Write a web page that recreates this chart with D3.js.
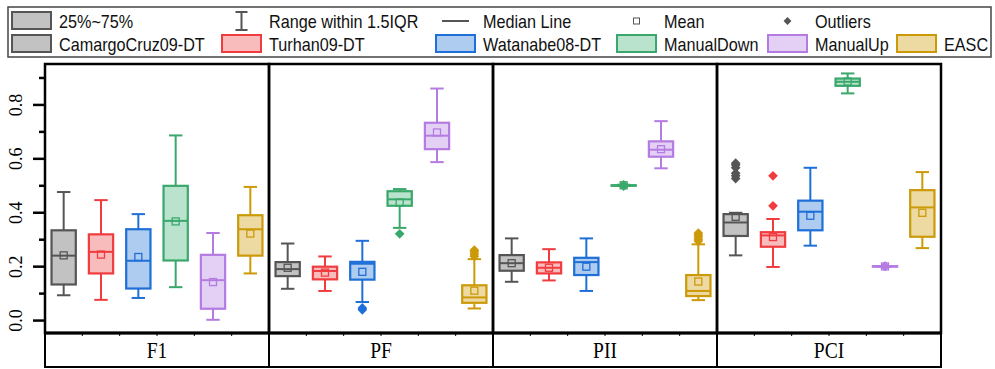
<!DOCTYPE html>
<html>
<head>
<meta charset="utf-8">
<script src="https://cdn.jsdelivr.net/npm/d3@7/dist/d3.min.js"></script>
<style>
  body { margin: 0; background: #fff; }
  svg { display: block; }
</style>
</head>
<body>
<svg id="chart" width="995" height="369"></svg>
<script>
// metric panels and methods
const panels = ["F1", "PF", "PII", "PCI"];
const methods = ["CamargoCruz09-DT", "Turhan09-DT", "Watanabe08-DT", "ManualDown", "ManualUp", "EASC"];

// box stats, one row per panel, one value per method
const whiskerLow = [
  [0.092, 0.075, 0.082, 0.122, 0.001, 0.173],
  [0.116, 0.108, 0.067, 0.342, 0.586, 0.043],
  [0.142, 0.147, 0.108, 0.498, 0.563, 0.074],
  [0.240, 0.197, 0.276, 0.841, 0.198, 0.267]
];
const q1 = [
  [0.132, 0.173, 0.117, 0.221, 0.042, 0.239],
  [0.163, 0.151, 0.150, 0.424, 0.634, 0.064],
  [0.183, 0.173, 0.167, 0.500, 0.606, 0.089],
  [0.312, 0.272, 0.333, 0.869, 0.199, 0.309]
];
const median = [
  [0.239, 0.253, 0.220, 0.368, 0.148, 0.337],
  [0.189, 0.182, 0.209, 0.448, 0.684, 0.084],
  [0.211, 0.194, 0.215, 0.500, 0.632, 0.108],
  [0.362, 0.314, 0.402, 0.884, 0.199, 0.418]
];
const q3 = [
  [0.333, 0.318, 0.337, 0.498, 0.242, 0.389],
  [0.215, 0.198, 0.216, 0.478, 0.732, 0.129],
  [0.241, 0.214, 0.231, 0.500, 0.663, 0.167],
  [0.393, 0.326, 0.443, 0.896, 0.200, 0.482]
];
const whiskerHigh = [
  [0.475, 0.445, 0.393, 0.685, 0.323, 0.494],
  [0.284, 0.236, 0.294, 0.486, 0.859, 0.226],
  [0.303, 0.263, 0.303, 0.502, 0.738, 0.281],
  [0.398, 0.375, 0.565, 0.915, 0.200, 0.549]
];
const mean = [
  [0.240, 0.243, 0.234, 0.366, 0.141, 0.321],
  [0.194, 0.176, 0.179, 0.436, 0.696, 0.109],
  [0.211, 0.194, 0.198, 0.500, 0.634, 0.143],
  [0.383, 0.308, 0.387, 0.885, 0.199, 0.398]
];
const outliers = [
  [[], [], [], [], [], []],
  [[], [], [0.045, 0.038], [0.320], [], [0.237, 0.245, 0.253, 0.260]],
  [[], [], [], [0.497, 0.502], [], [0.293, 0.300, 0.308, 0.316, 0.323]],
  [[0.525, 0.535, 0.545, 0.565, 0.575, 0.582], [0.424, 0.535], [], [], [0.199, 0.200], []]
];
const yTicks = [0, 0.2, 0.4, 0.6, 0.8];
const yMinorTicks = [0.1, 0.3, 0.5, 0.7, 0.9];

const strokeColors = ["#555555", "#f03c3e", "#1f6fd8", "#3aa86b", "#b47ce2", "#cc9a08"];
const fillColors = ["#c2c2c2", "#f9bcbc", "#aecbf0", "#b9e3cd", "#e3d0f4", "#eddaa2"];

const svg = d3.select("#chart");
const plotTop = 64, plotBottom = 333, stripBottom = 367;

const x = d3.scaleBand().domain(panels).range([45, 941]);
const xi = d3.scaleBand().domain(methods).range([0, x.bandwidth()]);
const y = d3.scaleLinear().domain([-0.048, 0.95]).range([plotBottom, plotTop]);
const color = d3.scaleOrdinal().domain(methods).range(strokeColors);
const fill = d3.scaleOrdinal().domain(methods).range(fillColors);

const rows = [];
panels.forEach(function(p, i) {
  methods.forEach(function(m, j) {
    rows.push({
      panel: p, method: m,
      lo: whiskerLow[i][j], q1: q1[i][j], med: median[i][j],
      q3: q3[i][j], hi: whiskerHigh[i][j], mean: mean[i][j],
      out: outliers[i][j]
    });
  });
});

const boxW = xi.bandwidth() * 0.65;
const capW = xi.bandwidth() * 0.36;
function cx(d) { return x(d.panel) + xi(d.method) + xi.bandwidth() / 2; }

// legend
const legend = svg.append("g");
legend.append("rect")
  .attr("x", 8).attr("y", 7).attr("width", 983).attr("height", 50)
  .attr("fill", "#fff").attr("stroke", "#444").attr("stroke-width", 1.5);

const colX = [12, 222, 436, 617, 768, 897];
const swW = 39, swH = 17;
const row1 = ["25%~75%", "Range within 1.5IQR", "Median Line", "Mean", "Outliers"];

function legendText(xp, yp, t) {
  legend.append("text")
    .attr("transform", "translate(" + xp + "," + yp + ") scale(0.9,1)")
    .attr("font-family", "Liberation Sans, Arial, sans-serif")
    .attr("font-size", 18).attr("fill", "#111").text(t);
}

row1.forEach(function(t, k) {
  legendText(colX[k] + 47, 28, t);
});
// row 1 symbols
legend.append("rect").attr("x", colX[0]).attr("y", 12).attr("width", swW).attr("height", swH)
  .attr("fill", "#c2c2c2").attr("stroke", "#555").attr("stroke-width", 2);
const rc = colX[1] + swW / 2;
legend.append("path")
  .attr("d", "M" + (rc - 6) + ",12H" + (rc + 6) + "M" + rc + ",12V30M" + (rc - 6) + ",30H" + (rc + 6))
  .attr("stroke", "#555").attr("stroke-width", 2).attr("fill", "none");
legend.append("line").attr("x1", colX[2] + 6).attr("x2", colX[2] + 33).attr("y1", 21).attr("y2", 21)
  .attr("stroke", "#555").attr("stroke-width", 2);
legend.append("rect").attr("x", colX[3] + swW / 2 - 3).attr("y", 18).attr("width", 6).attr("height", 6)
  .attr("fill", "none").attr("stroke", "#555").attr("stroke-width", 1);
legend.append("path").attr("d", d3.symbol(d3.symbolDiamond2, 40)())
  .attr("transform", "translate(" + (colX[4] + swW / 2) + ",21)").attr("fill", "#555");

// row 2 swatches
methods.forEach(function(m, k) {
  legend.append("rect").attr("x", colX[k]).attr("y", 35).attr("width", swW).attr("height", swH)
    .attr("fill", fill(m)).attr("stroke", color(m)).attr("stroke-width", 2);
  legendText(colX[k] + 47, 51, m);
});

// plot frame
const plot = svg.append("g");
plot.selectAll("rect.panel")
  .data(panels)
  .enter()
  .append("rect")
  .attr("class", "panel")
  .attr("x", d => x(d)).attr("y", plotTop)
  .attr("width", x.bandwidth()).attr("height", plotBottom - plotTop)
  .attr("fill", "none").attr("stroke", "#000").attr("stroke-width", 2.5);

// small ticks at method band edges along the bottom
panels.forEach(function(p) {
  methods.slice(1).forEach(function(m) {
    plot.append("line")
      .attr("x1", x(p) + xi(m)).attr("x2", x(p) + xi(m))
      .attr("y1", plotBottom).attr("y2", plotBottom + 3)
      .attr("stroke", "#000").attr("stroke-width", 1);
  });
});

// y axis
const axisMajor = d3.axisLeft(y).tickValues(yTicks).tickSize(12).tickFormat(d3.format(".1f"));
const gy = svg.append("g")
  .attr("transform", "translate(45,0)")
  .call(axisMajor);
gy.select(".domain").remove();
gy.selectAll(".tick line").attr("stroke-width", 2.5);
gy.selectAll(".tick text")
  .attr("transform", "rotate(-90)")
  .attr("x", 0).attr("y", -23).attr("dy", 0)
  .attr("text-anchor", "middle")
  .attr("font-family", "Liberation Serif, Times New Roman, serif")
  .attr("font-size", 18).attr("fill", "#000");
const gy2 = svg.append("g")
  .attr("transform", "translate(45,0)")
  .call(d3.axisLeft(y).tickValues(yMinorTicks).tickSize(6).tickFormat(""));
gy2.select(".domain").remove();
gy2.selectAll(".tick line").attr("stroke-width", 2.5);

// strip with panel names
const strip = svg.append("g");
strip.selectAll("rect")
  .data(panels)
  .enter()
  .append("rect")
  .attr("x", d => x(d)).attr("y", plotBottom)
  .attr("width", x.bandwidth()).attr("height", stripBottom - plotBottom)
  .attr("fill", "none").attr("stroke", "#000").attr("stroke-width", 2);
strip.append("line").attr("x1", 44).attr("x2", 942).attr("y1", plotBottom).attr("y2", plotBottom)
  .attr("stroke", "#000").attr("stroke-width", 3);
strip.selectAll("text")
  .data(panels)
  .enter()
  .append("text")
  .attr("transform", d => "translate(" + (x(d) + x.bandwidth() / 2) + ",358) scale(0.85,1)")
  .attr("text-anchor", "middle")
  .attr("font-family", "Liberation Serif, Times New Roman, serif")
  .attr("font-size", 23).attr("fill", "#000")
  .text(d => d);

// boxes
const boxes = svg.append("g").selectAll("g")
  .data(rows)
  .enter()
  .append("g");

boxes.append("line")
  .attr("x1", cx).attr("x2", cx)
  .attr("y1", d => y(d.lo)).attr("y2", d => y(d.hi))
  .attr("stroke", d => color(d.method)).attr("stroke-width", 2);
boxes.append("line")
  .attr("x1", d => cx(d) - capW / 2).attr("x2", d => cx(d) + capW / 2)
  .attr("y1", d => y(d.lo)).attr("y2", d => y(d.lo))
  .attr("stroke", d => color(d.method)).attr("stroke-width", 2);
boxes.append("line")
  .attr("x1", d => cx(d) - capW / 2).attr("x2", d => cx(d) + capW / 2)
  .attr("y1", d => y(d.hi)).attr("y2", d => y(d.hi))
  .attr("stroke", d => color(d.method)).attr("stroke-width", 2);
boxes.append("rect")
  .attr("x", d => cx(d) - boxW / 2).attr("width", boxW)
  .attr("y", d => y(d.q3)).attr("height", d => Math.max(0.5, y(d.q1) - y(d.q3)))
  .attr("fill", d => fill(d.method))
  .attr("stroke", d => color(d.method)).attr("stroke-width", 2.2);
boxes.append("line")
  .attr("x1", d => cx(d) - boxW / 2).attr("x2", d => cx(d) + boxW / 2)
  .attr("y1", d => y(d.med)).attr("y2", d => y(d.med))
  .attr("stroke", d => color(d.method)).attr("stroke-width", 2);
boxes.append("rect")
  .attr("x", d => cx(d) - 3.5).attr("y", d => y(d.mean) - 3.5)
  .attr("width", 7).attr("height", 7)
  .attr("fill", "none").attr("stroke", d => color(d.method)).attr("stroke-width", 1.3);
boxes.each(function(d) {
  d3.select(this).selectAll("path")
    .data(d.out)
    .enter()
    .append("path")
    .attr("d", d3.symbol(d3.symbolDiamond2, 60)())
    .attr("transform", v => "translate(" + cx(d) + "," + y(v) + ")")
    .attr("fill", color(d.method));
});
</script>
</body>
</html>
